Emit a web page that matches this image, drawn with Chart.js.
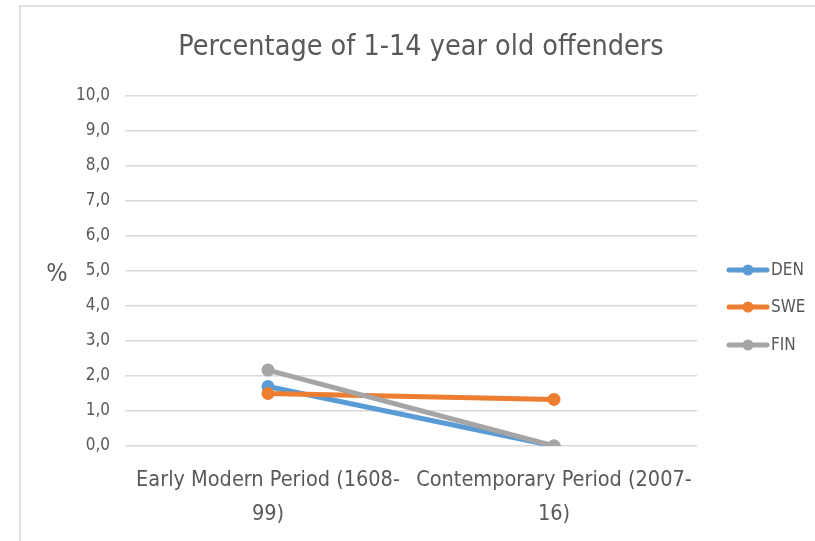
<!DOCTYPE html>
<html>
<head>
<meta charset="utf-8">
<script src="https://cdn.jsdelivr.net/npm/chart.js@4.4.0/dist/chart.umd.min.js"></script>
<style>
  html, body { margin: 0; padding: 0; background: #ffffff; }
  #wrap { width: 815px; height: 541px; position: relative; }
</style>
</head>
<body>
<div id="wrap"><canvas id="c" width="815" height="541"></canvas></div>
<script>
const categories = [["Early Modern Period (1608-", "99)"], ["Contemporary Period (2007-", "16)"]];
const seriesNames = ["DEN", "SWE", "FIN"];
const denValues = [1.7, 0.0];
const sweValues = [1.5, 1.33];
const finValues = [2.17, 0.0];
const yTicks = [0, 1, 2, 3, 4, 5, 6, 7, 8, 9, 10];
const chartTitle = "Percentage of 1-14 year old offenders";
const yUnit = "%";

const colors = ["#5B9BD5", "#ED7D31", "#A5A5A5"];
const FONT = "'Liberation Sans Narrow', 'DejaVu Sans Condensed', 'Open Sans', sans-serif";
const TXT = "#595959";

const extras = {
  id: 'extras',
  beforeDraw(chart) {
    const ctx = chart.ctx;
    ctx.save();
    ctx.fillStyle = '#ffffff';
    ctx.fillRect(0, 0, chart.width, chart.height);
    ctx.strokeStyle = '#D9D9D9';
    ctx.lineWidth = 1.5;
    ctx.beginPath();
    ctx.moveTo(20, chart.height + 2);
    ctx.lineTo(20, 6);
    ctx.lineTo(chart.width + 2, 6);
    ctx.stroke();
    ctx.restore();
  },
  afterDraw(chart) {
    const ctx = chart.ctx;
    ctx.save();
    // title
    ctx.fillStyle = TXT;
    ctx.font = "28.5px " + FONT;
    ctx.textAlign = 'center';
    ctx.textBaseline = 'middle';
    ctx.fillText(chartTitle, 421, 48);
    // unit
    ctx.font = "25px " + FONT;
    ctx.fillText(yUnit, 57, 274);
    // legend
    const ys = [270, 307, 345];
    seriesNames.forEach((n, i) => {
      ctx.strokeStyle = colors[i];
      ctx.lineWidth = 5;
      ctx.lineCap = 'round';
      ctx.beginPath();
      ctx.moveTo(729, ys[i]);
      ctx.lineTo(767, ys[i]);
      ctx.stroke();
      ctx.fillStyle = colors[i];
      ctx.beginPath();
      ctx.arc(748, ys[i], 5.5, 0, Math.PI * 2);
      ctx.fill();
      ctx.fillStyle = TXT;
      ctx.font = "17px " + FONT;
      ctx.textAlign = 'left';
      ctx.textBaseline = 'middle';
      ctx.fillText(n, 771, ys[i] + 1);
    });
    ctx.restore();
  }
};

const datasets = [denValues, sweValues, finValues].map((vals, i) => ({
  label: seriesNames[i],
  data: vals,
  borderColor: colors[i],
  backgroundColor: colors[i],
  borderWidth: 5,
  pointRadius: 6.5,
  pointHoverRadius: 6.5,
  pointBorderWidth: 0,
  order: 3 - i,
  tension: 0,
  fill: false
}));

new Chart(document.getElementById('c'), {
  type: 'line',
  data: { labels: categories, datasets },
  options: {
    responsive: false,
    animation: false,
    layout: { padding: { top: 96, left: 0, right: 118, bottom: 0 } },
    plugins: {
      legend: { display: false },
      title: { display: false },
      tooltip: { enabled: false }
    },
    scales: {
      x: {
        offset: true,
        grid: { display: false, drawTicks: false },
        border: { display: false },
        ticks: {
          color: TXT,
          font: { family: FONT, size: 21.5, lineHeight: 1.55 },
          padding: 18,
          maxRotation: 0,
          autoSkip: false
        },
        afterFit(s) { s.height = 95; }
      },
      y: {
        min: 0,
        max: 10,
        afterBuildTicks(s) { s.ticks = yTicks.map(v => ({ value: v })); },
        grid: { color: '#D9D9D9', lineWidth: 1.5, drawTicks: false },
        border: { display: false },
        ticks: {
          color: TXT,
          font: { family: FONT, size: 17 },
          padding: 15,
          callback: v => Number(v).toFixed(1).replace('.', ',')
        },
        afterFit(s) { s.width = 125; }
      }
    }
  },
  plugins: [extras]
});
</script>
</body>
</html>
